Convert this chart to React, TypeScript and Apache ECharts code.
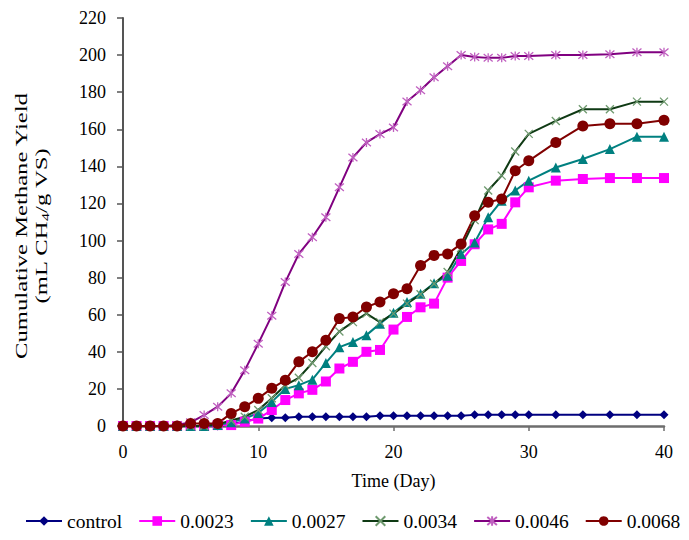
import React, { useEffect, useRef } from "react";
import * as echarts from "echarts";

const days = [0,1,2,3,4,5,6,7,8,9,10,11,12,13,14,15,16,17,18,19,20,21,22,23,24,25,26,27,28,29,30,32,34,36,38,40];
const seriesNames = ["control", "0.0023", "0.0027", "0.0034", "0.0046", "0.0068"];
const control = [0,0,0,0,0,0,0,0,1,2.5,4,4.5,4.5,5,5,5,5,5,5,5.5,5.5,5.5,5.5,5.5,5.5,5.5,6,6,6,6,6,6,6,6,6,6];
const s0023 = [0,0,0,0,0,0,0,0.5,0.5,2.3,4,8.6,14,17.6,19.5,24,31,34.6,40,41,52,58.8,64,66,80,89,98,106,109,120.6,128.7,132.3,133.2,133.7,133.7,133.7];
const s0027 = [0,0,0,0,0,0,0,0.5,2,4,7,13,20,22,25,34,42.5,45.3,49,55.2,61,66.8,71.3,77,81,92.8,99,112.5,121.5,127,132.3,139.4,144,149.3,156,156];
const s0034 = [0,0,0,0,0,0,0,1,3,5,8.6,15,22,26,34,43,51,56,60.6,56,60.6,66,71,76.7,83,96,111,127,135,148,157.5,164.5,170.8,170.8,174.9,174.9];
const s0046 = [0,0,0,0,0.5,2,5.9,10.4,17.6,30,44.4,59.5,77.6,92.8,101.8,112.5,128.7,144.8,152.9,157.4,161,175,181,188,194,200,199,198.5,198.5,199.5,199.5,200,200,200.5,201.5,201.5];
const s0068 = [0,0,0,0,0,1.4,1.4,1.4,6.8,10.4,14.9,20.3,24.7,34.6,40,46.2,57.9,58.8,64.2,66.9,71.3,74,86.6,92,92.8,98.2,113.4,120.6,122.4,137.6,143,152.9,161.8,163,163,164.9];
const yTicks = { min: 0, max: 220, interval: 20 };
const xTicks = { min: 0, max: 40, interval: 10 };

const FONT = "Liberation Serif";

const pair = (arr: number[]) => days.map((d, i) => [d, arr[i]]);

export default function App() {
  const ref = useRef<HTMLDivElement>(null);
  useEffect(() => {
    if (!ref.current) return;
    const chart = echarts.init(ref.current, null, { renderer: "svg" });
    const mk = (
      name: string,
      arr: number[],
      color: string,
      symbol: string,
      symbolSize: number,
      symColor: string,
      stroke?: boolean
    ) => ({
      name,
      type: "line",
      data: pair(arr),
      symbol,
      symbolSize,
      showSymbol: true,
      lineStyle: { color, width: 2 },
      itemStyle: stroke
        ? { color: symColor, borderColor: symColor, borderWidth: 1.3 }
        : { color: symColor },
      emphasis: { disabled: true },
      z: 2,
    });
    const xPath = "path://M0 0L10 10M10 0L0 10";
    const astPath = "path://M0 0L10 10M10 0L0 10M5 -1L5 11";
    chart.setOption({
      animation: false,
      textStyle: { fontFamily: FONT },
      grid: { left: 123, right: 25, top: 18, bottom: 114, containLabel: false },
      xAxis: {
        type: "value",
        ...xTicks,
        name: "Time (Day)",
        nameLocation: "middle",
        nameGap: 46,
        nameTextStyle: { fontFamily: FONT, fontSize: 18, color: "#000" },
        axisLine: { show: true, lineStyle: { color: "#6e6e6e", width: 2.5 } },
        axisTick: { show: true, length: 5, lineStyle: { color: "#6e6e6e", width: 1.5 } },
        axisLabel: { fontFamily: FONT, fontSize: 18, color: "#000", margin: 17 },
        splitLine: { show: false },
      },
      yAxis: {
        type: "value",
        ...yTicks,
        axisLine: { show: true, lineStyle: { color: "#555", width: 2 } },
        axisTick: { show: true, length: 6, lineStyle: { color: "#555", width: 1.5 } },
        axisLabel: { fontFamily: FONT, fontSize: 18, color: "#000", margin: 17 },
        splitLine: { show: false },
      },
      legend: {
        data: seriesNames,
        left: 25,
        top: 511,
        width: 664,
        padding: 0,
        itemWidth: 36,
        itemHeight: 12,
        itemGap: 16,
        textStyle: { fontFamily: FONT, fontSize: 19.5, color: "#000" },
      },
      graphic: [
        {
          type: "text",
          x: 31,
          y: 226,
          rotation: Math.PI / 2,
          scaleX: 1.45,
          style: {
            text: "{a|Cumulative Methane Yield}\n{a|(mL CH}{s|4}{a|/g VS)}",
            align: "center",
            verticalAlign: "middle",
            fill: "#000",
            rich: {
              a: { fontFamily: FONT, fontSize: 17, lineHeight: 20, fill: "#000" },
              s: { fontFamily: FONT, fontSize: 11, lineHeight: 20, verticalAlign: "bottom", fill: "#000" },
            },
          },
        },
      ],
      series: [
        mk("control", control, "#000080", "diamond", 9, "#000080"),
        mk("0.0023", s0023, "#ff00ff", "rect", 10, "#ff00ff"),
        mk("0.0027", s0027, "#008080", "triangle", 10, "#008080"),
        mk("0.0034", s0034, "#0f3a14", xPath, 8, "#6f9a6f", true),
        mk("0.0046", s0046, "#800080", astPath, 9, "#c060c0", true),
        mk("0.0068", s0068, "#800000", "circle", 11, "#800000"),
      ],
    });
    return () => chart.dispose();
  }, []);
  return (
    <div
      ref={ref}
      style={{ position: "fixed", left: 0, top: 0, width: 689, height: 540, background: "#fff" }}
    />
  );
}
